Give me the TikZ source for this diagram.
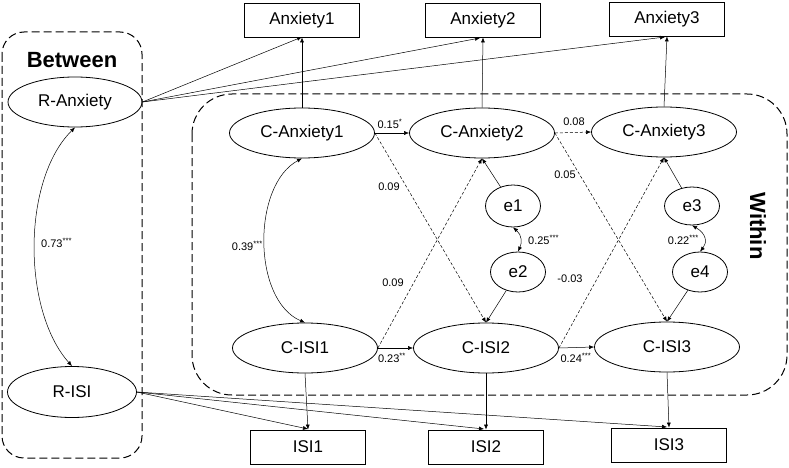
\documentclass[tikz,border=0pt]{standalone}
\usepackage{fontspec}
\setmainfont{Liberation Sans}
\usetikzlibrary{arrows.meta,shapes.geometric}
\begin{document}
\begin{tikzpicture}[x=1pt,y=-1pt,
  lat/.style={draw, line width=0.8pt, ellipse, minimum width=145pt, minimum height=50pt, inner sep=0pt, font=\fontsize{17}{17}\selectfont},
  err/.style={draw, line width=0.8pt, ellipse, minimum width=55pt, minimum height=40pt, inner sep=0pt, font=\fontsize{17}{17}\selectfont},
  obs/.style={draw, line width=0.8pt, rectangle, minimum width=115pt, minimum height=34pt, inner sep=0pt, font=\fontsize{17}{17}\selectfont},
  arr/.style={-{Latex[length=5pt,width=4pt]}, line width=0.5pt},
  darr/.style={{Latex[length=5pt,width=4pt]}-{Latex[length=5pt,width=4pt]}, line width=0.5pt},
  dsh/.style={dash pattern=on 3pt off 2pt},
  lbl/.style={font=\fontsize{11}{11}\selectfont, inner sep=1pt},
  grp/.style={draw, line width=1pt, dash pattern=on 8pt off 4pt},
  ttl/.style={font=\fontsize{22}{22}\selectfont\bfseries}
]
\useasboundingbox (0,0) rectangle (789,468);
% group boxes
\draw[grp, rounded corners=22pt] (2,32) rectangle (142,458);
\draw[grp, rounded corners=40pt] (192,94) rectangle (787,395);
\node[ttl] (between) at (72,60) {Between};
\node[ttl, rotate=-90] (within) at (758,226) {Within};
% between latents
\node[lat, minimum width=134pt] (ranx) at (75,102) {R-Anxiety};
\node[lat, minimum width=129pt, minimum height=51pt] (risi) at (72,392) {R-ISI};
% indicators
\node[obs] (a1) at (302,20) {Anxiety1};
\node[obs] (a2) at (483,20) {Anxiety2};
\node[obs] (a3) at (667,19) {Anxiety3};
\node[obs] (i1) at (308,447) {ISI1};
\node[obs] (i2) at (486,447) {ISI2};
\node[obs] (i3) at (669,445) {ISI3};
% within latents
\node[lat] (ca1) at (302,133) {C-Anxiety1};
\node[lat] (ca2) at (482,133) {C-Anxiety2};
\node[lat] (ca3) at (664,132) {C-Anxiety3};
\node[lat] (ci1) at (305,348) {C-ISI1};
\node[lat] (ci2) at (486,348) {C-ISI2};
\node[lat] (ci3) at (667,347) {C-ISI3};
% errors
\node[err, minimum height=42pt] (e1) at (513,206) {e1};
\node[err] (e2) at (518,272) {e2};
\node[err, minimum height=38pt] (e3) at (692,206) {e3};
\node[err] (e4) at (700,272) {e4};
% coordinates for targets
\coordinate (a1b) at (302,37);
\coordinate (a2b) at (480,38);
\coordinate (a3b) at (665,37);
\coordinate (i1t) at (308,429);
\coordinate (i2t) at (484,429);
\coordinate (i3t) at (667,427);
% between loadings
\draw[arr] (ranx.east) -- (a1b);
\draw[arr] (ranx.east) -- (a2b);
\draw[arr] (ranx.east) -- (a3b);
\draw[arr] (risi.east) -- (i1t);
\draw[arr] (risi.east) -- (i2t);
\draw[arr] (risi.east) -- (i3t);
% within loadings
\draw[arr] (ca1.north) -- (a1.south);
\draw[arr] (ca2.north) -- (a2.south);
\draw[arr] (ca3.north) -- (a3.south);
\draw[arr] (ci1.south) -- (i1.north);
\draw[arr] (ci2.south) -- (i2.north);
\draw[arr] (ci3.south) -- (i3.north);
% covariances
\draw[darr] (ranx.south) .. controls (22,180) and (22,310) .. (risi.north);
\node[lbl, anchor=west] (l73) at (40,243) {0.73\textsuperscript{***}};
\draw[darr] (ca1.south) .. controls (252,185) and (252,300) .. (ci1.north);
\node[lbl, anchor=east] (l39) at (264,246) {0.39\textsuperscript{***}};
\draw[darr] (e1.south) .. controls (522,235) and (522,243) .. (e2.north);
\node[lbl, anchor=west] (l25) at (527,240) {0.25\textsuperscript{***}};
\draw[darr] (e3.south) .. controls (707,234) and (707,243) .. (e4.north);
\node[lbl, anchor=east] (l22) at (700,240) {0.22\textsuperscript{***}};
% autoregressive
\draw[arr] (ca1.east) -- (ca2.west);
\node[lbl] (l15) at (390,124) {0.15\textsuperscript{*}};
\draw[arr, dsh] (ca2.east) -- (ca3.west);
\node[lbl] (l08) at (574,122) {0.08};
\draw[arr] (ci1.east) -- (ci2.west);
\node[lbl] (l23) at (392,358) {0.23\textsuperscript{**}};
\draw[arr] (ci2.east) -- (ci3.west);
\node[lbl] (l24) at (576,358) {0.24\textsuperscript{***}};
% cross-lagged
\draw[arr, dsh] (ca1.east) -- (ci2.north);
\node[lbl] (l09a) at (389,187) {0.09};
\draw[arr, dsh] (ci1.east) -- (ca2.south);
\node[lbl] (l09b) at (393,283) {0.09};
\draw[arr, dsh] (ca2.east) -- (ci3.north);
\node[lbl] (l05) at (565,175) {0.05};
\draw[arr, dsh] (ci2.east) -- (ca3.south);
\node[lbl] (l03) at (570,279) {-0.03};
% residuals
\draw[arr] (e1) -- (ca2.south);
\draw[arr] (e2) -- (ci2.north);
\draw[arr] (e3) -- (ca3.south);
\draw[arr] (e4) -- (ci3.north);
\end{tikzpicture}
\end{document}
